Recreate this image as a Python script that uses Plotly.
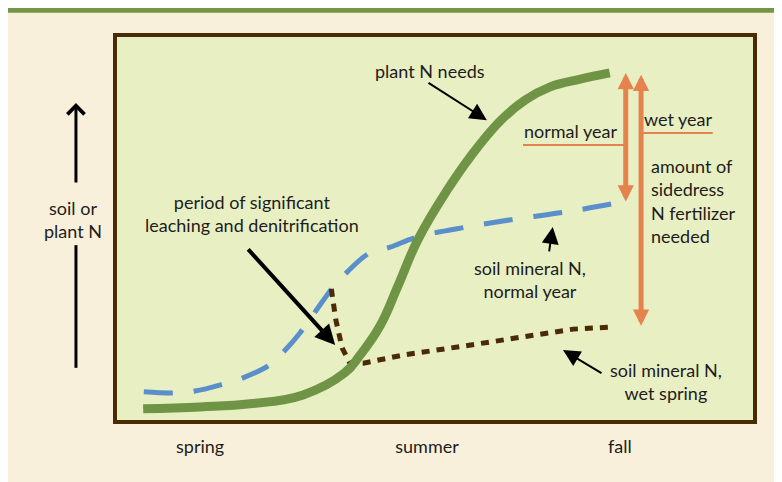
import plotly.graph_objects as go

# chart units: x 0-100 across the season box, y 0-100 from box bottom to top
plant_x = [4.4, 13.3, 21.1, 29.4, 35.9, 38.3, 41.4, 44.2, 47.3, 51.9, 55.5, 60.2, 64.1, 68.0, 72.7, 77.3]
plant_y = [3.4, 3.9, 4.7, 7.0, 12.7, 17.3, 24.8, 35.1, 47.0, 59.9, 68.5, 77.8, 83.2, 86.6, 88.6, 90.2]

normal_x = [4.5, 9.1, 12.5, 16.9, 20.0, 24.1, 26.6, 28.9, 31.25, 34.1, 36.3, 39.8, 43.0, 47.2, 55.0, 62.8, 70.6, 78.4]
normal_y = [7.8, 7.5, 8.0, 9.8, 11.4, 14.7, 18.6, 23.0, 28.4, 34.9, 38.8, 43.7, 45.2, 47.8, 50.4, 52.5, 54.3, 56.6]

wet_x = [33.8, 34.5, 35.5, 36.7, 38.8, 45.0, 54.4, 63.3, 71.6, 77.3]
wet_y = [34.4, 26.4, 19.1, 15.2, 15.2, 17.3, 19.6, 22.0, 24.0, 24.5]

season_pos = [13.3, 48.75, 78.9]
season_labels = ['spring', 'summer', 'fall']

# fertilizer gap arrows: x, top (plant need), bottom (soil N)
gap_normal = (79.8, 90.2, 56.6)
gap_wet = (82.2, 89.7, 24.5)

FONT = 'Lato'
TXT = '#1e1c1c'
ORANGE = '#e5834f'
BROWN = '#4b2a06'

fig = go.Figure()

fig.add_trace(go.Scatter(x=normal_x, y=normal_y, mode='lines', line_shape='spline',
                         line=dict(color='#5a8fcc', width=5, dash='29px,21px'), hoverinfo='skip'))
fig.add_trace(go.Scatter(x=wet_x, y=wet_y, mode='lines',
                         line=dict(color=BROWN, width=5, dash='8px,7px'), hoverinfo='skip'))
fig.add_trace(go.Scatter(x=plant_x, y=plant_y, mode='lines', line_shape='spline',
                         line=dict(color='#709445', width=9, smoothing=1.2), hoverinfo='skip'))

shapes = [
    # cream page, green top bar, plot box
    dict(type='rect', xref='paper', yref='paper', x0=-0.18, x1=1.05, y0=-0.2, y1=1.08,
         fillcolor='#f8f0da', line_width=0, layer='below'),
    dict(type='rect', xref='paper', yref='paper', x0=-0.18, x1=1.05, y0=1.0576, y1=1.08,
         fillcolor='#739545', line_width=0, layer='below'),
    dict(type='rect', xref='paper', yref='paper', x0=0, x1=1, y0=0, y1=1,
         fillcolor='#e8efc3', line=dict(color=BROWN, width=4), layer='below'),
    # horizontal leader lines
    dict(type='line', x0=63.75, x1=gap_normal[0], y0=71.6, y1=71.6, line=dict(color=ORANGE, width=2)),
    dict(type='line', x0=gap_wet[0], x1=93.4, y0=74.7, y1=74.7, line=dict(color=ORANGE, width=2)),
    # lower part of y-axis arrow
    dict(type='line', xref='paper', yref='paper', x0=-0.061, x1=-0.061, y0=0.140, y1=0.457,
         line=dict(color='black', width=3)),
]

annotations = []


def label(text, x, y, **kw):
    d = dict(text=text, x=x, y=y, showarrow=False, xanchor='center', yanchor='middle',
             font=dict(family=FONT, size=18, color=TXT))
    d.update(kw)
    annotations.append(d)


def arrow(x0, y0, x1, y1, width=2, size=1.7, color='black', head=2, **kw):
    d = dict(text='', x=x1, y=y1, ax=x0, ay=y0, axref='x', ayref='y', showarrow=True,
             arrowhead=head, arrowwidth=width, arrowsize=size, arrowcolor=color, standoff=0)
    d.update(kw)
    annotations.append(d)


label('plant N needs', 49.2, 90.7)
label('normal year', 71.1, 71.9, yanchor='bottom')
label('wet year', 88.0, 75.0, yanchor='bottom')
label('amount of<br>sidedress<br>N fertilizer<br>needed', 83.4, 57.2, xanchor='left', align='left')
label('period of significant<br>leaching and denitrification', 21.4, 53.9)
label('soil mineral N,<br>normal year', 64.8, 36.7)
label('soil mineral N,<br>wet spring', 86.1, 10.5)
label('soil or<br>plant N', -0.0656, 0.5245, xref='paper', yref='paper')

arrow(48.75, 87.9, 58.1, 78.0)
arrow(20.6, 45.0, 34.4, 19.9, width=4, size=1.0)
arrow(67.8, 43.7, 68.4, 50.4)
arrow(76.25, 12.4, 70.0, 18.6)

for gx, top, bottom in (gap_normal, gap_wet):
    arrow(gx, bottom, gx, top, width=5, size=0.65, color=ORANGE, arrowside='end+start')

# y-axis arrow
annotations.append(dict(text='', xref='paper', yref='paper', x=-0.061, y=0.824, ax=0, ay=81,
                        showarrow=True, arrowhead=4, arrowwidth=3, arrowsize=1.1,
                        arrowcolor='black', standoff=0))

fig.update_xaxes(range=[0, 100], showgrid=False, zeroline=False, showline=False,
                 tickvals=season_pos, ticktext=season_labels, ticks='',
                 ticklabelstandoff=12, tickfont=dict(family=FONT, size=18, color=TXT))
fig.update_yaxes(range=[0, 100], showgrid=False, zeroline=False, showline=False,
                 showticklabels=False)

# page body adds an 8px offset, so the figure is 8px smaller on each side
fig.update_layout(width=774, height=474, margin=dict(l=107, r=27, t=27, b=60),
                  paper_bgcolor='white', plot_bgcolor='rgba(0,0,0,0)',
                  showlegend=False, shapes=shapes, annotations=annotations)

fig.write_html('out.html')
